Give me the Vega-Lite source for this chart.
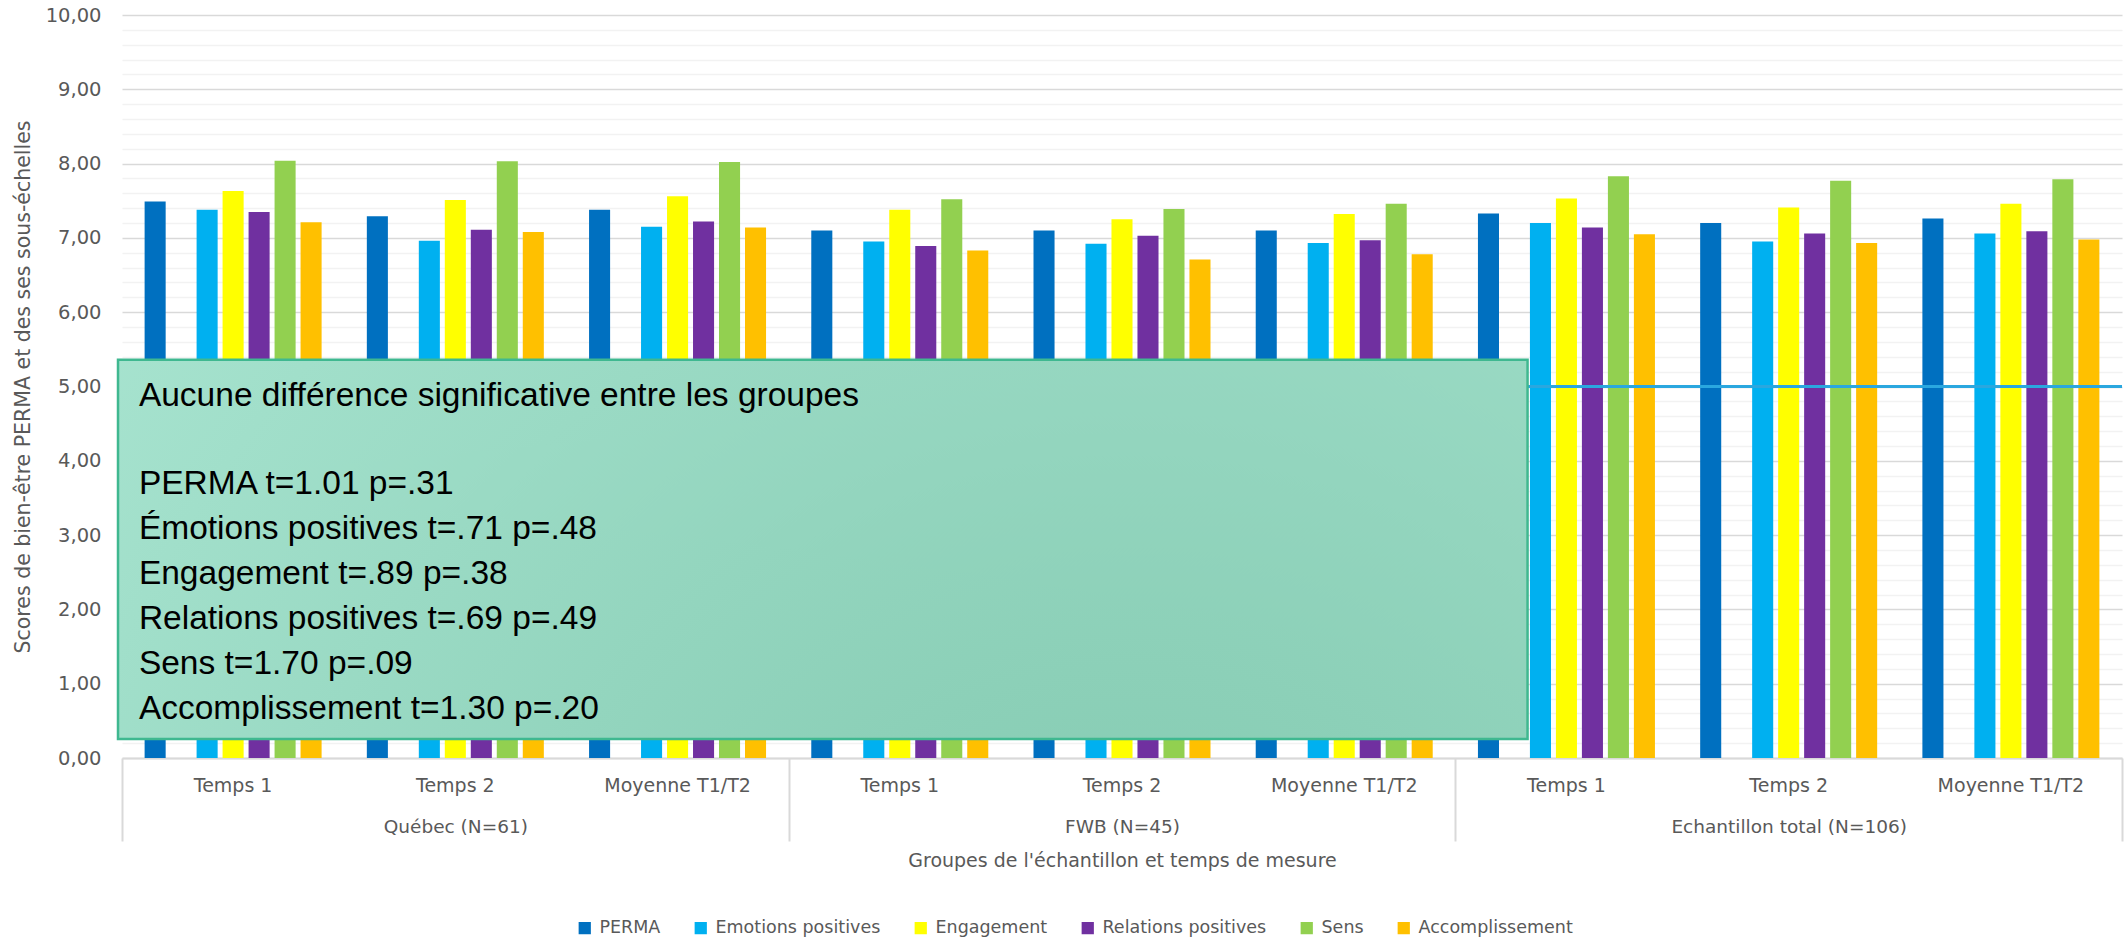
{
  "$schema": "https://vega.github.io/schema/vega-lite/v6.json",
  "width": 2126,
  "height": 939,
  "autosize": {"type": "fit", "contains": "padding"},
  "padding": {"left": 13, "top": 5, "right": 2, "bottom": 69},
  "background": "white",
  "config": {
    "view": {"stroke": null},
    "font": "DejaVu Sans"
  },
  "data": {
    "values": [
      {"groupe": "Québec (N=61)", "cat": "Québec (N=61)|Temps 1", "serie": "PERMA", "score": 7.49},
      {"groupe": "Québec (N=61)", "cat": "Québec (N=61)|Temps 1", "serie": "Emotions positives", "score": 7.38},
      {"groupe": "Québec (N=61)", "cat": "Québec (N=61)|Temps 1", "serie": "Engagement", "score": 7.63},
      {"groupe": "Québec (N=61)", "cat": "Québec (N=61)|Temps 1", "serie": "Relations positives", "score": 7.35},
      {"groupe": "Québec (N=61)", "cat": "Québec (N=61)|Temps 1", "serie": "Sens", "score": 8.04},
      {"groupe": "Québec (N=61)", "cat": "Québec (N=61)|Temps 1", "serie": "Accomplissement", "score": 7.21},
      {"groupe": "Québec (N=61)", "cat": "Québec (N=61)|Temps 2", "serie": "PERMA", "score": 7.29},
      {"groupe": "Québec (N=61)", "cat": "Québec (N=61)|Temps 2", "serie": "Emotions positives", "score": 6.96},
      {"groupe": "Québec (N=61)", "cat": "Québec (N=61)|Temps 2", "serie": "Engagement", "score": 7.51},
      {"groupe": "Québec (N=61)", "cat": "Québec (N=61)|Temps 2", "serie": "Relations positives", "score": 7.11},
      {"groupe": "Québec (N=61)", "cat": "Québec (N=61)|Temps 2", "serie": "Sens", "score": 8.03},
      {"groupe": "Québec (N=61)", "cat": "Québec (N=61)|Temps 2", "serie": "Accomplissement", "score": 7.08},
      {"groupe": "Québec (N=61)", "cat": "Québec (N=61)|Moyenne T1/T2", "serie": "PERMA", "score": 7.38},
      {"groupe": "Québec (N=61)", "cat": "Québec (N=61)|Moyenne T1/T2", "serie": "Emotions positives", "score": 7.15},
      {"groupe": "Québec (N=61)", "cat": "Québec (N=61)|Moyenne T1/T2", "serie": "Engagement", "score": 7.56},
      {"groupe": "Québec (N=61)", "cat": "Québec (N=61)|Moyenne T1/T2", "serie": "Relations positives", "score": 7.22},
      {"groupe": "Québec (N=61)", "cat": "Québec (N=61)|Moyenne T1/T2", "serie": "Sens", "score": 8.02},
      {"groupe": "Québec (N=61)", "cat": "Québec (N=61)|Moyenne T1/T2", "serie": "Accomplissement", "score": 7.14},
      {"groupe": "FWB (N=45)", "cat": "FWB (N=45)|Temps 1", "serie": "PERMA", "score": 7.10},
      {"groupe": "FWB (N=45)", "cat": "FWB (N=45)|Temps 1", "serie": "Emotions positives", "score": 6.95},
      {"groupe": "FWB (N=45)", "cat": "FWB (N=45)|Temps 1", "serie": "Engagement", "score": 7.38},
      {"groupe": "FWB (N=45)", "cat": "FWB (N=45)|Temps 1", "serie": "Relations positives", "score": 6.89},
      {"groupe": "FWB (N=45)", "cat": "FWB (N=45)|Temps 1", "serie": "Sens", "score": 7.52},
      {"groupe": "FWB (N=45)", "cat": "FWB (N=45)|Temps 1", "serie": "Accomplissement", "score": 6.83},
      {"groupe": "FWB (N=45)", "cat": "FWB (N=45)|Temps 2", "serie": "PERMA", "score": 7.10},
      {"groupe": "FWB (N=45)", "cat": "FWB (N=45)|Temps 2", "serie": "Emotions positives", "score": 6.92},
      {"groupe": "FWB (N=45)", "cat": "FWB (N=45)|Temps 2", "serie": "Engagement", "score": 7.25},
      {"groupe": "FWB (N=45)", "cat": "FWB (N=45)|Temps 2", "serie": "Relations positives", "score": 7.03},
      {"groupe": "FWB (N=45)", "cat": "FWB (N=45)|Temps 2", "serie": "Sens", "score": 7.39},
      {"groupe": "FWB (N=45)", "cat": "FWB (N=45)|Temps 2", "serie": "Accomplissement", "score": 6.71},
      {"groupe": "FWB (N=45)", "cat": "FWB (N=45)|Moyenne T1/T2", "serie": "PERMA", "score": 7.10},
      {"groupe": "FWB (N=45)", "cat": "FWB (N=45)|Moyenne T1/T2", "serie": "Emotions positives", "score": 6.93},
      {"groupe": "FWB (N=45)", "cat": "FWB (N=45)|Moyenne T1/T2", "serie": "Engagement", "score": 7.32},
      {"groupe": "FWB (N=45)", "cat": "FWB (N=45)|Moyenne T1/T2", "serie": "Relations positives", "score": 6.97},
      {"groupe": "FWB (N=45)", "cat": "FWB (N=45)|Moyenne T1/T2", "serie": "Sens", "score": 7.46},
      {"groupe": "FWB (N=45)", "cat": "FWB (N=45)|Moyenne T1/T2", "serie": "Accomplissement", "score": 6.78},
      {"groupe": "Echantillon total (N=106)", "cat": "Echantillon total (N=106)|Temps 1", "serie": "PERMA", "score": 7.33},
      {"groupe": "Echantillon total (N=106)", "cat": "Echantillon total (N=106)|Temps 1", "serie": "Emotions positives", "score": 7.20},
      {"groupe": "Echantillon total (N=106)", "cat": "Echantillon total (N=106)|Temps 1", "serie": "Engagement", "score": 7.53},
      {"groupe": "Echantillon total (N=106)", "cat": "Echantillon total (N=106)|Temps 1", "serie": "Relations positives", "score": 7.14},
      {"groupe": "Echantillon total (N=106)", "cat": "Echantillon total (N=106)|Temps 1", "serie": "Sens", "score": 7.83},
      {"groupe": "Echantillon total (N=106)", "cat": "Echantillon total (N=106)|Temps 1", "serie": "Accomplissement", "score": 7.05},
      {"groupe": "Echantillon total (N=106)", "cat": "Echantillon total (N=106)|Temps 2", "serie": "PERMA", "score": 7.20},
      {"groupe": "Echantillon total (N=106)", "cat": "Echantillon total (N=106)|Temps 2", "serie": "Emotions positives", "score": 6.95},
      {"groupe": "Echantillon total (N=106)", "cat": "Echantillon total (N=106)|Temps 2", "serie": "Engagement", "score": 7.41},
      {"groupe": "Echantillon total (N=106)", "cat": "Echantillon total (N=106)|Temps 2", "serie": "Relations positives", "score": 7.06},
      {"groupe": "Echantillon total (N=106)", "cat": "Echantillon total (N=106)|Temps 2", "serie": "Sens", "score": 7.77},
      {"groupe": "Echantillon total (N=106)", "cat": "Echantillon total (N=106)|Temps 2", "serie": "Accomplissement", "score": 6.93},
      {"groupe": "Echantillon total (N=106)", "cat": "Echantillon total (N=106)|Moyenne T1/T2", "serie": "PERMA", "score": 7.26},
      {"groupe": "Echantillon total (N=106)", "cat": "Echantillon total (N=106)|Moyenne T1/T2", "serie": "Emotions positives", "score": 7.06},
      {"groupe": "Echantillon total (N=106)", "cat": "Echantillon total (N=106)|Moyenne T1/T2", "serie": "Engagement", "score": 7.46},
      {"groupe": "Echantillon total (N=106)", "cat": "Echantillon total (N=106)|Moyenne T1/T2", "serie": "Relations positives", "score": 7.09},
      {"groupe": "Echantillon total (N=106)", "cat": "Echantillon total (N=106)|Moyenne T1/T2", "serie": "Sens", "score": 7.79},
      {"groupe": "Echantillon total (N=106)", "cat": "Echantillon total (N=106)|Moyenne T1/T2", "serie": "Accomplissement", "score": 6.98}
    ]
  },
  "resolve": {
    "scale": {"x": "independent"},
    "axis": {"x": "independent", "y": "independent"}
  },
  "layer": [
    {
      "mark": {"type": "bar"},
      "encoding": {
        "x": {
          "field": "cat", "type": "nominal", "sort": null,
          "scale": {"paddingInner": 0, "paddingOuter": 0},
          "axis": {
            "orient": "bottom", "title": null,
            "labelExpr": "split(datum.value, '|')[1]",
            "labelAngle": 0, "ticks": false, "grid": false, "labelLimit": 0,
            "domain": true, "domainColor": "#d9d9d9", "domainWidth": 2,
            "labelFont": "DejaVu Sans", "labelFontSize": 19, "labelColor": "#595959", "labelPadding": 18
          }
        },
        "xOffset": {
          "field": "serie", "type": "nominal",
          "scale": {
            "domain": ["PERMA", "·", "Emotions positives", "Engagement", "Relations positives", "Sens", "Accomplissement"],
            "paddingInner": 0.19, "paddingOuter": 0.87
          }
        },
        "y": {
          "field": "score", "type": "quantitative",
          "scale": {"domain": [0, 10], "nice": false},
          "axis": {
            "orient": "left",
            "values": [0, 1, 2, 3, 4, 5, 6, 7, 8, 9, 10],
            "labelExpr": "replace(format(datum.value, '.2f'), '.', ',')",
            "grid": true, "gridColor": "#d9d9d9", "gridWidth": 1.5,
            "domain": false, "ticks": false,
            "labelFont": "DejaVu Sans", "labelFontSize": 19.5, "labelColor": "#595959", "labelPadding": 21,
            "title": "Scores de bien-être PERMA et des ses sous-échelles",
            "titleFont": "DejaVu Sans", "titleFontSize": 20.5, "titleFontWeight": "normal", "titleColor": "#595959", "titlePadding": 12
          }
        },
        "color": {
          "field": "serie", "type": "nominal",
          "scale": {
            "domain": ["PERMA", "Emotions positives", "Engagement", "Relations positives", "Sens", "Accomplissement"],
            "range": ["#0070c0", "#00b0f0", "#ffff00", "#7030a0", "#92d050", "#ffc000"]
          },
          "legend": {
            "orient": "none",
            "legendX": {"expr": "width / 2 - 546"},
            "legendY": {"expr": "height + 161"},
            "direction": "horizontal", "title": null,
            "symbolType": "square", "symbolSize": 150, "symbolStrokeWidth": 0,
            "labelFont": "DejaVu Sans", "labelFontSize": 17.5, "labelColor": "#595959", "labelOffset": 6, "labelLimit": 0,
            "columnPadding": 31
          }
        }
      }
    },
    {
      "mark": {"type": "tick", "opacity": 0},
      "encoding": {
        "x": {
          "field": "groupe", "type": "nominal", "sort": null,
          "scale": {"type": "band", "paddingInner": 0, "paddingOuter": 0},
          "axis": {
            "orient": "bottom",
            "title": "Groupes de l'échantillon et temps de mesure",
            "domain": false, "grid": false, "labelLimit": 0,
            "ticks": true, "tickBand": "extent", "tickSize": 83, "tickColor": "#d9d9d9", "tickWidth": 2,
            "labelAngle": 0, "labelPadding": -24, "labelFont": "DejaVu Sans", "labelFontSize": 18.5, "labelColor": "#595959",
            "titleFont": "DejaVu Sans", "titleFontSize": 19, "titleFontWeight": "normal", "titleColor": "#595959", "titlePadding": 9
          }
        },
        "y": {
          "datum": 0, "type": "quantitative",
          "axis": {
            "orient": "left", "title": null,
            "values": [0.2, 0.4, 0.6, 0.8, 1.2, 1.4, 1.6, 1.8, 2.2, 2.4, 2.6, 2.8, 3.2, 3.4, 3.6, 3.8, 4.2, 4.4, 4.6, 4.8, 5.2, 5.4, 5.6, 5.8, 6.2, 6.4, 6.6, 6.8, 7.2, 7.4, 7.6, 7.8, 8.2, 8.4, 8.6, 8.8, 9.2, 9.4, 9.6, 9.8],
            "grid": true, "gridColor": "#f2f2f2", "gridWidth": 1.5,
            "labels": false, "ticks": false, "domain": false
          }
        }
      }
    },
    {
      "data": {"values": [{}]},
      "mark": {"type": "rule", "color": "#2aa7df", "strokeWidth": 3},
      "encoding": {
        "y": {"datum": 5, "type": "quantitative", "axis": null}
      }
    },
    {
      "data": {"values": [{}]},
      "layer": [
        {
          "mark": {
            "type": "rect",
            "fill": {
              "gradient": "radial",
              "x1": 0.72, "y1": 0.9, "r1": 0,
              "x2": 0.72, "y2": 0.9, "r2": 0.95,
              "stops": [
                {"offset": 0, "color": "#7ec6ac"},
                {"offset": 1, "color": "#a8e4d0"}
              ]
            },
            "stroke": "#3fb890", "strokeWidth": 2.5
          },
          "encoding": {
            "x": {"datum": -0.018, "type": "quantitative", "scale": {"domain": [0, 9], "nice": false, "zero": false}, "axis": null},
            "x2": {"datum": 6.325},
            "y": {"datum": 0.256, "type": "quantitative", "axis": null},
            "y2": {"datum": 5.36}
          }
        },
        {
          "mark": {
            "type": "text",
            "text": "Aucune différence significative entre les groupes",
            "align": "left", "baseline": "alphabetic",
            "font": "Liberation Sans", "fontSize": 33.5, "color": "#000000"
          },
          "encoding": {
            "x": {"datum": 0.076, "type": "quantitative", "axis": null},
            "y": {"datum": 4.737, "type": "quantitative", "axis": null}
          }
        },
        {
          "mark": {
            "type": "text",
            "text": [
              "PERMA t=1.01 p=.31",
              "Émotions positives t=.71 p=.48",
              "Engagement t=.89 p=.38",
              "Relations positives t=.69 p=.49",
              "Sens t=1.70 p=.09",
              "Accomplissement t=1.30 p=.20"
            ],
            "align": "left", "baseline": "alphabetic",
            "font": "Liberation Sans", "fontSize": 33.5, "lineHeight": 45, "color": "#000000"
          },
          "encoding": {
            "x": {"datum": 0.076, "type": "quantitative", "axis": null},
            "y": {"datum": 3.549, "type": "quantitative", "axis": null}
          }
        }
      ]
    }
  ]
}
